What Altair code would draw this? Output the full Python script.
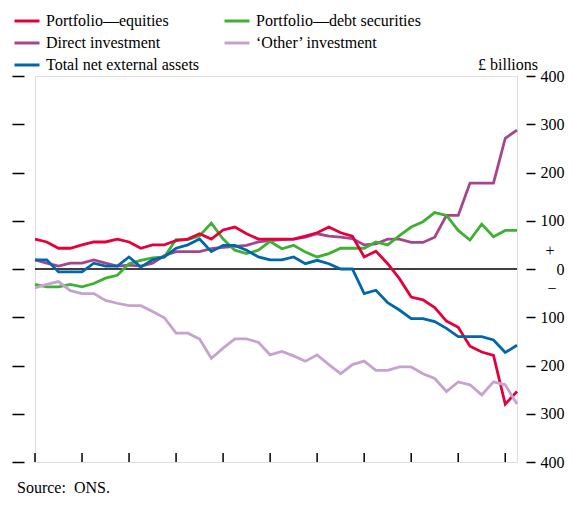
import altair as alt
import pandas as pd

# Quarterly observations, 1990 Q1 to 2000 Q2 (42 quarters)
quarters = [1990 + 0.25 * i for i in range(42)]

series_names = [
    "Portfolio\u2014equities",
    "Portfolio\u2014debt securities",
    "Direct investment",
    "\u2018Other\u2019 investment",
    "Total net external assets",
]
series_colors = ["#e4003b", "#3eb032", "#a6458f", "#c6a3ce", "#0068aa"]

equities = [62, 56, 43, 43, 50, 56, 56, 62, 56, 43,
            50, 50, 59, 62, 73, 62, 81, 87, 73, 62,
            62, 62, 62, 68, 75, 87, 75, 68, 25, 37,
            11, -20, -58, -64, -80, -108, -121, -160, -172, -179,
            -280, -254]
debt = [-32, -37, -37, -32, -37, -30, -19, -13, 11, 18,
        23, 25, 61, 61, 69, 95, 62, 39, 32, 39,
        57, 42, 49, 35, 25, 32, 43, 43, 43, 56,
        50, 69, 87, 98, 117, 111, 80, 60, 93, 67,
        80, 80]
direct = [19, 12, 6, 12, 12, 19, 12, 6, 8, 6,
          12, 28, 36, 36, 36, 42, 45, 47, 49, 56,
          59, 61, 62, 66, 73, 68, 66, 63, 50, 52,
          62, 62, 55, 55, 66, 111, 111, 178, 178, 178,
          271, 288]
other = [-39, -32, -26, -45, -51, -51, -65, -71, -76, -76,
         -88, -101, -133, -133, -145, -185, -164, -145, -145, -152,
         -178, -171, -180, -191, -178, -198, -217, -198, -191, -210,
         -210, -203, -203, -217, -227, -254, -234, -240, -261, -234,
         -240, -280]
total = [19, 19, -6, -6, -6, 12, 6, 6, 25, 4,
         19, 25, 43, 50, 62, 36, 49, 49, 39, 25,
         19, 19, 25, 11, 18, 11, 0, 0, -51, -44,
         -70, -85, -103, -103, -109, -123, -140, -140, -140, -147,
         -173, -158]

year_ticks = list(range(1990, 2001))
y_ticks = [-400, -300, -200, -100, 0, 100, 200, 300, 400]
x_label_pos = [1990.5, 1992.5, 1994.5, 1996.5, 1998.5, 2000.32]

# legend fills column by column: col 1 = equities, direct, total; col 2 = debt, other
legend_order = [series_names[0], series_names[2], series_names[4],
                series_names[1], series_names[3]]
legend_colors = [series_colors[series_names.index(n)] for n in legend_order]

# drawing order (last drawn on top)
draw_order = [
    (series_names[2], direct),
    (series_names[1], debt),
    (series_names[0], equities),
    (series_names[3], other),
    (series_names[4], total),
]
rows = []
for k, (name, vals) in enumerate(draw_order):
    for t, v in zip(quarters, vals):
        rows.append({"t": t, "v": v, "s": name, "k": k})
df = pd.DataFrame(rows)

FONT = "Liberation Serif"
W, H = 482, 386

x_scale = alt.Scale(domain=[1990, 2000.25], nice=False, zero=False)
y_scale = alt.Scale(domain=[-400, 400], nice=False, zero=False)
color_scale = alt.Scale(domain=legend_order, range=legend_colors)

x_axis = alt.Axis(
    values=x_label_pos,
    labelExpr="datum.value < 1991 ? '1990' : (datum.value > 2000 ? '2000' : slice(toString(floor(datum.value)), 2))",
    ticks=False, tickSize=0, grid=False, title=None,
    domain=True, domainColor="black", domainWidth=1.5,
    labelFont=FONT, labelFontSize=16, labelColor="black", labelPadding=6,
    labelFlush=False, labelOverlap=False,
)

left_axis = alt.Axis(
    orient="left", values=y_ticks, labels=False, domain=False, grid=False,
    tickSize=12, offset=11, tickColor="black", tickWidth=1.5, title=None,
)
right_axis = alt.Axis(
    orient="right", values=y_ticks, domain=False, grid=False,
    tickSize=9, offset=9, tickColor="black", tickWidth=1.5, title=None,
    labelExpr="toString(abs(datum.value))", labelAlign="right", labelPadding=29,
    labelFont=FONT, labelFontSize=16, labelColor="black",
    labelFlush=False, labelOverlap=False, labelBaseline="middle",
)

lines = alt.Chart(df).mark_line(strokeWidth=2.8).encode(
    x=alt.X("t:Q", scale=x_scale, axis=x_axis),
    y=alt.Y("v:Q", scale=y_scale, axis=left_axis),
    color=alt.Color(
        "s:N", scale=color_scale,
        legend=alt.Legend(
            orient="none", legendX=-22, legendY=-69, columns=2, title=None,
            symbolType="stroke", symbolSize=625, symbolStrokeWidth=3,
            labelFont=FONT, labelFontSize=16, labelColor="black",
            labelOffset=5, columnPadding=18, rowPadding=0, labelLimit=400,
        ),
    ),
    detail="k:O",
)

zero_df = pd.DataFrame({"v": [0]})
zero_rule = alt.Chart(zero_df).mark_rule(color="black", strokeWidth=1.4).encode(
    y=alt.Y("v:Q", scale=y_scale, axis=right_axis),
)

ticks_df = pd.DataFrame({"yr": year_ticks})
year_rules = alt.Chart(ticks_df).mark_rule(color="black", strokeWidth=1.5).encode(
    x=alt.X("yr:Q", scale=x_scale, axis=None),
    y=alt.value(H),
    y2=alt.value(H - 9),
)

text_df = pd.DataFrame({"txt": ["\u00a3 billions"]})
unit_text = alt.Chart(text_df).mark_text(
    align="right", baseline="alphabetic", font=FONT, fontSize=16, color="black"
).encode(text="txt:N", x=alt.value(503), y=alt.value(-6))

plus_df = pd.DataFrame({"txt": ["+"]})
plus_text = alt.Chart(plus_df).mark_text(
    align="center", baseline="middle", font=FONT, fontSize=16, color="black"
).encode(text="txt:N", x=alt.value(515), y=alt.value(175))

minus_df = pd.DataFrame({"txt": ["\u2212"]})
minus_text = alt.Chart(minus_df).mark_text(
    align="center", baseline="middle", font=FONT, fontSize=16, color="black"
).encode(text="txt:N", x=alt.value(517), y=alt.value(213))

src_df = pd.DataFrame({"txt": ["Source:\u00a0 ONS."]})
src_text = alt.Chart(src_df).mark_text(
    align="left", baseline="alphabetic", font=FONT, fontSize=16, color="black"
).encode(text="txt:N", x=alt.value(-18), y=alt.value(417))

chart = alt.layer(
    zero_rule, year_rules, lines, unit_text, plus_text, minus_text, src_text
).resolve_axis(y="independent").properties(
    width=W, height=H,
    autosize=alt.AutoSizeParams(type="none"),
    padding={"left": 27, "top": 68, "right": 48, "bottom": 36},
).configure_view(stroke=None).configure(background="white")

chart.save("out.html", embed_options={"renderer": "svg", "actions": False})
